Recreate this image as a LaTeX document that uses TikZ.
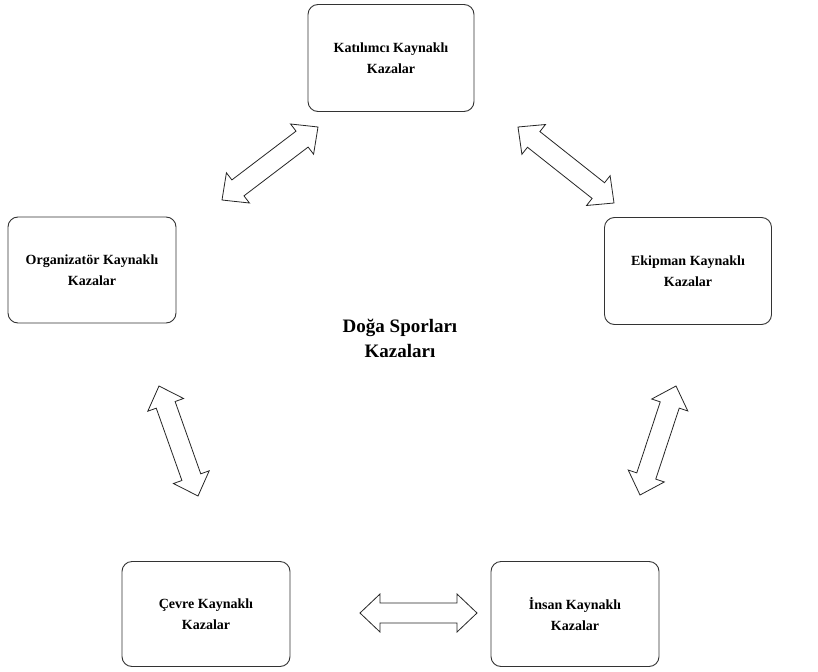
\documentclass[tikz,border=0pt]{standalone}
\usepackage{fontspec}
\setmainfont{Liberation Serif}
\usetikzlibrary{calc}
\newcommand\hl{20pt}
\newcommand\hw{19pt}
\newcommand\sw{10pt}
\newcommand\blockarr[2]{%
 \draw[barrow] (#1)
  -- ($(#1)!\hl!(#2)!\hw!90:(#2)$)
  -- ($(#1)!\hl!(#2)!\sw!90:(#2)$)
  -- ($(#2)!\hl!(#1)!\sw!-90:(#1)$)
  -- ($(#2)!\hl!(#1)!\hw!-90:(#1)$)
  -- (#2)
  -- ($(#2)!\hl!(#1)!\hw!90:(#1)$)
  -- ($(#2)!\hl!(#1)!\sw!90:(#1)$)
  -- ($(#1)!\hl!(#2)!\sw!-90:(#2)$)
  -- ($(#1)!\hl!(#2)!\hw!-90:(#2)$)
  -- cycle;}
\begin{document}
\begin{tikzpicture}[x=1pt,y=-1pt,
  box/.style={draw=black!80, line width=0.9pt, rounded corners=10pt, align=center,
    font=\bfseries\fontsize{14}{21.5}\selectfont, inner sep=0pt},
  barrow/.style={draw=black!85, line width=0.8pt, fill=white, line join=miter},
  title/.style={align=center, font=\bfseries\fontsize{19}{25}\selectfont}]
\useasboundingbox (0,0) rectangle (818,671);
\fill[white] (0,0) rectangle (818,671);
\node[box, minimum width=166pt, minimum height=107pt] (kat) at (391,58) {Katılımcı Kaynaklı\\Kazalar};
\node[box, minimum width=168pt, minimum height=106pt] (org) at (92,270) {Organizatör Kaynaklı\\Kazalar};
\node[box, minimum width=167pt, minimum height=107pt] (eki) at (688,271) {Ekipman Kaynaklı\\Kazalar};
\node[box, minimum width=168pt, minimum height=105pt] (cev) at (206,614) {Çevre Kaynaklı\\Kazalar};
\node[box, minimum width=168pt, minimum height=105pt] (ins) at (575,614) {İnsan Kaynaklı\\Kazalar};
\node[title] (dsk) at (400,338) {Doğa Sporları\\Kazaları};
\coordinate (a1) at (222,200); \coordinate (b1) at (318,127);
\coordinate (a2) at (518,127); \coordinate (b2) at (614,203);
\coordinate (a3) at (159,386); \coordinate (b3) at (198,496);
\coordinate (a4) at (676,386); \coordinate (b4) at (640,495);
\coordinate (a5) at (360,613); \coordinate (b5) at (477,613);
\blockarr{a1}{b1}
\blockarr{a2}{b2}
\blockarr{a3}{b3}
\blockarr{a4}{b4}
\blockarr{a5}{b5}
\end{tikzpicture}
\end{document}
